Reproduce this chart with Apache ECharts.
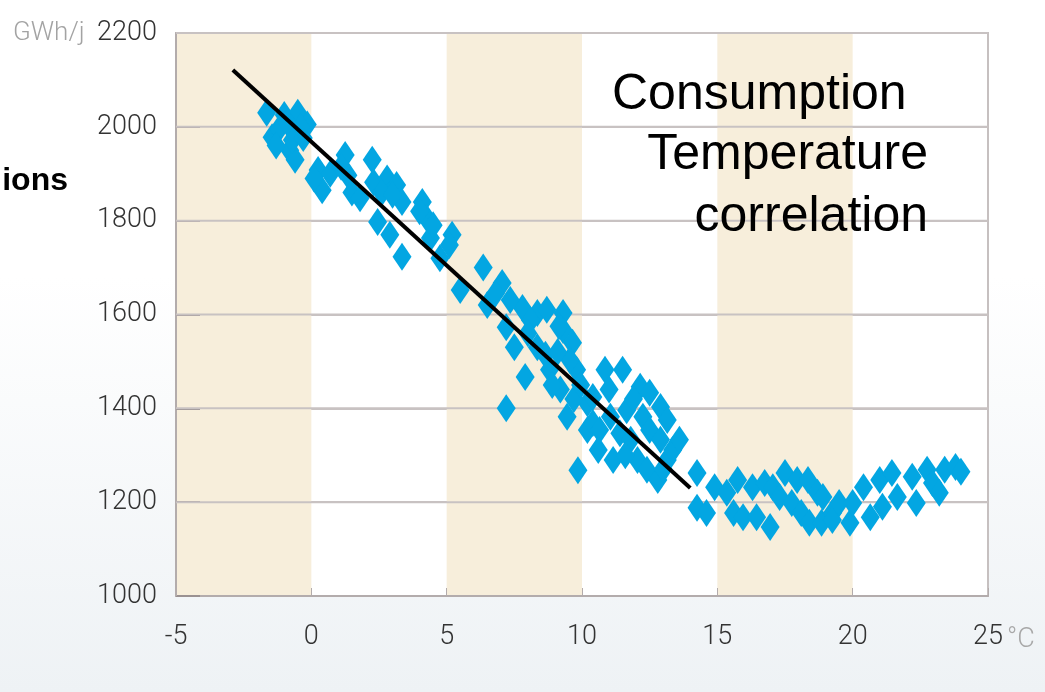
<!DOCTYPE html>
<html>
<head>
<meta charset="utf-8">
<script src="https://cdn.jsdelivr.net/npm/echarts@6/dist/echarts.min.js"></script>
<style>
html,body{margin:0;padding:0;}
body{width:1045px;height:692px;background:linear-gradient(to bottom,#ffffff 0%,#ffffff 40%,#eef2f5 100%);}
#c{width:1045px;height:692px;}
</style>
</head>
<body>
<div id="c"></div>
<script>
// Temperature (°C)
var temps = [
 -1.65,-1.0,-0.5,-1.45,-1.2,-0.8,-0.6,-0.7,-0.3,-0.15,-0.4,-1.3,-0.9,
 0.25,0.4,0.1,1.25,1.35,1.5,1.8,2.25,2.3,2.45,2.8,3.15,3.35,2.9,3.35,4.1,4.25,4.4,4.75,5.2,5.1,0.7,1.1,2.6,3.0,4.5,4.0,
 6.35,5.5,7.05,6.5,7.2,7.5,7.9,7.2,7.8,8.35,8.7,9.3,8.35,8.8,9.3,9.65,9.8,9.2,9.45,10.2,9.85,10.2,10.4,7.35,8.1,9.15,8.65,9.55,6.8,8.0,9.1,8.9,9.7,9.95,
 10.85,11.5,12.15,12.5,12.9,13.15,10.4,11.05,11.65,12.25,10.65,11.4,11.15,12.05,12.4,12.8,13.15,13.35,13.6,14.25,11.8,12.5,12.9,10.6,11.6,11.0,11.9,13.0,
 14.25,14.6,14.9,15.35,15.6,15.75,15.95,16.3,16.45,16.75,16.95,17.05,17.3,17.5,17.75,17.95,18.1,18.35,18.4,18.7,18.85,19.25,18.9,19.25,19.5,19.9,20.0,20.4,20.65,21.0,21.1,21.45,21.65,22.2,22.35,22.75,22.95,23.2,23.4,23.8,24.0
];
// Consumption (GWh/j)
var consumption = [
 2030,2025,2030,1978,1995,1950,1930,1972,1976,2005,2000,1960,2010,
 1908,1865,1890,1940,1897,1860,1848,1930,1882,1797,1890,1876,1840,1770,1723,1840,1806,1763,1720,1770,1748,1900,1915,1860,1855,1790,1820,
 1700,1652,1667,1620,1573,1530,1467,1400,1614,1603,1610,1603,1530,1482,1567,1540,1482,1440,1382,1411,1268,1354,1369,1631,1588,1575,1514,1503,1645,1560,1520,1450,1420,1450,
 1482,1482,1446,1433,1403,1375,1424,1382,1396,1382,1354,1347,1290,1290,1269,1247,1290,1311,1333,1262,1333,1354,1333,1311,1300,1440,1420,1270,
 1188,1177,1232,1220,1177,1247,1168,1232,1168,1241,1147,1232,1211,1262,1198,1247,1177,1247,1156,1220,1156,1177,1211,1162,1198,1156,1198,1232,1168,1247,1190,1262,1211,1254,1198,1269,1241,1220,1269,1275,1265
];
// Trend line end points
var trendTemps = [-2.9, 14.0];
var trendValues = [2121, 1230];

var xTicks = [-5, 0, 5, 10, 15, 20, 25];
var yTicks = [1000, 1200, 1400, 1600, 1800, 2000, 2200];

var points = temps.map(function (t, i) { return [t, consumption[i]]; });
var trend = trendTemps.map(function (t, i) { return [t, trendValues[i]]; });
var xMin = xTicks[0], xMax = xTicks[xTicks.length - 1];
var gridRows = yTicks.slice(1).map(function (v) { return [xMin, v, xMax]; });

var labelFont = 'Roboto, "DejaVu Sans", sans-serif';

var chart = echarts.init(document.getElementById('c'), null, {renderer: 'canvas'});
chart.setOption({
  backgroundColor: 'transparent',
  animation: false,
  grid: {left: 176, top: 33, right: 57, bottom: 96, show: true, backgroundColor: '#ffffff', borderColor: '#c6c0c0', borderWidth: 2},
  xAxis: {
    type: 'value', min: xMin, max: xMax, interval: 5,
    axisLine: {show: true, onZero: false, lineStyle: {color: '#b3acac', width: 2}},
    axisTick: {show: true, inside: true, length: 8, lineStyle: {color: '#b3acac', width: 1}},
    axisLabel: {color: '#333', fontFamily: labelFont, fontWeight: 300, fontSize: 27, margin: 28,
      formatter: function (v) { return String(v); }},
    splitLine: {show: false},
    splitArea: {show: true, areaStyle: {color: ['#f7eedb', 'rgba(255,255,255,0)']}}
  },
  yAxis: {
    type: 'value', min: yTicks[0], max: yTicks[yTicks.length - 1], interval: 200,
    axisLine: {show: true, onZero: false, lineStyle: {color: '#b3acac', width: 2}},
    axisTick: {show: true, inside: true, length: 24, lineStyle: {color: '#9a9191', width: 2}},
    axisLabel: {color: '#333', fontFamily: labelFont, fontWeight: 300, fontSize: 27, margin: 19,
      formatter: function (v) { return String(v); }},
    splitLine: {show: true, lineStyle: {color: '#c8c2c2', width: 2}}
  },
  series: [
    {
      type: 'custom', data: gridRows, z: 2, silent: true,
      encode: {x: [0, 2], y: 1},
      renderItem: function (params, api) {
        var a = api.coord([api.value(0), api.value(1)]);
        var b = api.coord([api.value(2), api.value(1)]);
        return {type: 'line', shape: {x1: a[0], y1: a[1], x2: b[0], y2: b[1]},
          style: {stroke: '#c8c2c2', lineWidth: 2}};
      }
    },
    {
      type: 'scatter', data: points, symbol: 'diamond', symbolSize: [19, 28],
      itemStyle: {color: '#03a6e2', opacity: 1}, z: 20
    },
    {
      type: 'line', data: trend, symbol: 'none', z: 25,
      lineStyle: {color: '#000', width: 4}
    }
  ],
  graphic: [
    {type: 'text', z: 100, x: 68, y: 181, style: {text: 'ions', align: 'right', verticalAlign: 'middle', fill: '#000', font: 'bold 32px "Liberation Sans", Arial, sans-serif'}},
    {type: 'text', z: 100, x: 13, y: 33, style: {text: 'GWh/j', align: 'left', verticalAlign: 'middle', fill: '#a3a3a3', font: '300 26px ' + labelFont}},
    {type: 'text', z: 100, x: 1007, y: 640, style: {text: '°C', align: 'left', verticalAlign: 'middle', fill: '#a8a8a8', font: '300 27px ' + labelFont}},
    {type: 'text', z: 100, x: 612, y: 95, style: {text: 'Consumption', align: 'left', verticalAlign: 'middle', fill: '#000', font: '50px "Liberation Sans", Arial, sans-serif'}},
    {type: 'text', z: 100, x: 928, y: 155, style: {text: 'Temperature', align: 'right', verticalAlign: 'middle', fill: '#000', font: '50px "Liberation Sans", Arial, sans-serif'}},
    {type: 'text', z: 100, x: 928, y: 217, style: {text: 'correlation', align: 'right', verticalAlign: 'middle', fill: '#000', font: '50px "Liberation Sans", Arial, sans-serif'}}
  ]
});
</script>
</body>
</html>
